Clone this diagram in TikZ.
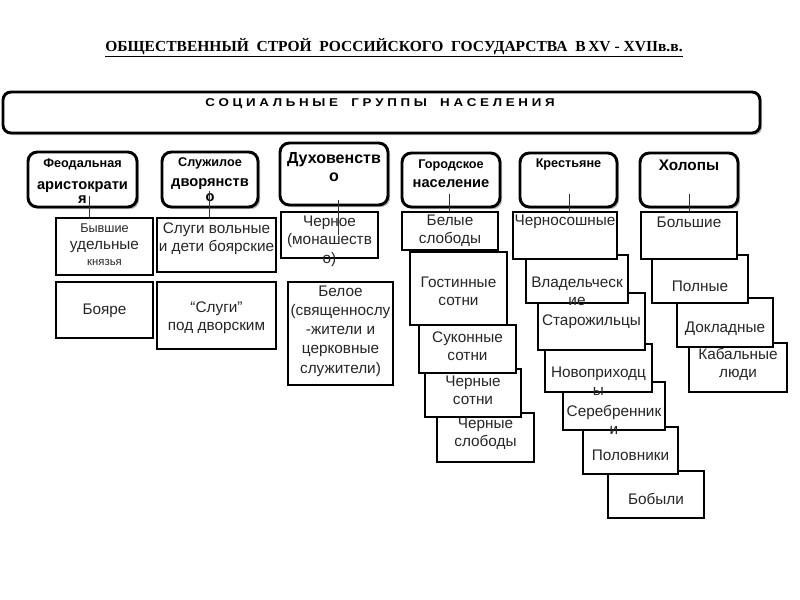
\documentclass[tikz,border=0pt]{standalone}
\usepackage{graphicx}
\usepackage{fontspec}
\setmainfont{Liberation Sans}
\newfontfamily\titlefont{Liberation Serif}
\usetikzlibrary{fit,shadows}

\tikzset{
  hdr/.style={draw, line width=2.2pt, rounded corners=7pt, fill=white, inner sep=0pt,
    drop shadow={shadow xshift=1.6pt, shadow yshift=-1.6pt, opacity=0.55}},
  sub/.style={draw, line width=1.3pt, fill=white, inner sep=0pt,
    drop shadow={shadow xshift=0.8pt, shadow yshift=-0.8pt, opacity=0.35}},
  htxt/.style={align=center, inner sep=0pt, font=\bfseries\fontsize{11}{10.5}\selectfont},
  stxt/.style={align=center, inner sep=0pt, text=black!85, font=\fontsize{11.5}{13.5}\selectfont},
  link/.style={line width=0.6pt, black!80},
}

\begin{document}
\begin{tikzpicture}[x=0.75pt,y=0.75pt,yscale=-1,xscale=1]
\useasboundingbox (0,0) rectangle (800,600);

% Text Node
\node (title) at (394,48) {\titlefont\bfseries\fontsize{11.5}{12}\selectfont\resizebox{433pt}{\height}{\underline{ОБЩЕСТВЕННЫЙ\ \ СТРОЙ\ \ РОССИЙСКОГО\ \ ГОСУДАРСТВА\ \ В\,XV - XVIIв.в.}}};

%Shape: Rounded Rect
\node[hdr, rounded corners=6pt, fit={(3,92) (760,133)}] (groups) {};
% Text Node
\node (groups-t) at (380,104) {\bfseries\fontsize{8.5}{10}\selectfont\resizebox{262pt}{\height}{С О Ц И А Л Ь Н Ы Е\quad Г Р У П П Ы\quad Н А С Е Л Е Н И Я}};

%Shape: Rounded Rect
\node[hdr, fit={(28,152) (137,207)}] (feod) {};
\node[hdr, fit={(162,152) (258,207)}] (dvor) {};
\node[hdr, fit={(280,143) (388,205)}] (dukh) {};
\node[hdr, fit={(402,153) (500,207)}] (gor) {};
\node[hdr, fit={(520,153) (617,207)}] (krest) {};
\node[hdr, fit={(640,153) (738,207)}] (kholop) {};

%Shape: Rectangle
\node[sub, fit={(56,282) (153,338)}] (boyare) {};
\node[sub, fit={(56,218) (153,275)}] (knyaz) {};
\node[sub, fit={(157,282) (276,349)}] (dvorsk) {};
\node[sub, fit={(157,218) (276,272)}] (slugi) {};
\node[sub, fit={(288,282) (393,385)}] (beloe) {};
\node[sub, fit={(281,212) (378,258)}] (chernoe) {};
%Shape: Rectangle
\node[sub, fit={(437,413) (534,462)}] (chsl) {};
\node[sub, fit={(425,369) (521,417)}] (chsot) {};
\node[sub, fit={(419,325) (516,373)}] (sukon) {};
\node[sub, fit={(410,252) (507,325)}] (gost) {};
\node[sub, fit={(402,212) (498,250)}] (belsl) {};
%Shape: Rectangle
\node[sub, fit={(608,471) (704,518)}] (bobyl) {};
\node[sub, fit={(583,427) (678,474)}] (polov) {};
\node[sub, fit={(563,382) (665,430)}] (sereb) {};
\node[sub, fit={(545,344) (652,392)}] (novo) {};
\node[sub, fit={(538,293) (645,350)}] (staro) {};
\node[sub, fit={(526,255) (628,303)}] (vlad) {};
\node[sub, fit={(513,212) (617,259)}] (chsosh) {};
%Shape: Rectangle
\node[sub, fit={(689,343) (787,392)}] (kabal) {};
\node[sub, fit={(677,298) (773,347)}] (dokl) {};
\node[sub, fit={(652,255) (748,303)}] (poln) {};
\node[sub, fit={(641,212) (737,259)}] (bolsh) {};

% Text Node
\node[htxt] (feod-t) at (82.5,181) {{\fontsize{9.5}{10}\selectfont Феодальная}\\[6pt]аристократи\\я};
\node[htxt, font=\bfseries\fontsize{11}{11.25}\selectfont] (dvor-t) at (210,180) {{\fontsize{9.5}{10}\selectfont Служилое}\\[3.75pt]дворянств\\о};
\node[htxt, font=\bfseries\fontsize{12}{13.5}\selectfont] (dukh-t) at (334,167) {Духовенств\\о};
\node[htxt, font=\bfseries\fontsize{11}{11}\selectfont] (gor-t) at (451,174) {{\fontsize{9.5}{10}\selectfont Городское}\\[3.25pt]население};
\node[htxt, font=\bfseries\fontsize{9.5}{11}\selectfont] (krest-t) at (568.5,164) {Крестьяне};
\node[htxt, font=\bfseries\fontsize{11.5}{12}\selectfont] (kholop-t) at (689,165) {Холопы};

% Text Node
\node[stxt, font=\fontsize{11.5}{12.5}\selectfont] (knyaz-t) at (104.5,245) {{\fontsize{9.5}{10}\selectfont Бывшие}\\удельные\\{\fontsize{8.5}{10}\selectfont князья}};
\node[stxt] (boyare-t) at (104.5,311) {Бояре};
\node[stxt] (slugi-t) at (216.5,239) {Слуги вольные\\и дети боярские};
\node[stxt] (dvorsk-t) at (216.5,318) {“Слуги”\\под дворским};
\node[stxt, font=\fontsize{11.5}{14}\selectfont] (chernoe-t) at (329.5,241) {Черное\\(монашеств\\о)};
\node[stxt, font=\fontsize{11.5}{14.4}\selectfont] (beloe-t) at (340.5,331) {Белое\\(священнослу\\-жители и\\церковные\\служители)};
% Text Node
\node[stxt] (belsl-t) at (450,231) {Белые\\слободы};
\node[stxt] (gost-t) at (458.5,291) {Гостинные\\сотни};
\node[stxt] (sukon-t) at (467.5,346) {Суконные\\сотни};
\node[stxt] (chsot-t) at (473,390) {Черные\\сотни};
\node[stxt] (chsl-t) at (485.5,434) {Черные\\слободы};
% Text Node
\node[stxt] (chsosh-t) at (565,222) {Черносошные};
\node[stxt] (vlad-t) at (577,291) {Владельческ\\ие};
\node[stxt] (staro-t) at (591.5,322) {Старожильцы};
\node[stxt] (novo-t) at (598.5,381) {Новоприходц\\ы};
\node[stxt] (sereb-t) at (614,420) {Серебренник\\и};
\node[stxt] (polov-t) at (630.5,455) {Половники};
\node[stxt] (bobyl-t) at (656,499) {Бобыли};
% Text Node
\node[stxt] (bolsh-t) at (689,222) {Большие};
\node[stxt] (poln-t) at (700,286) {Полные};
\node[stxt] (dokl-t) at (725,329) {Докладные};
\node[stxt] (kabal-t) at (738,364) {Кабальные\\люди};

%Straight Lines
\path (feod.south) ++(6.5,-12) coordinate (feod-c);
\draw[link] (feod-c) -- (feod-c |- knyaz.north);
\path (dvor.south) ++(-1,-17) coordinate (dvor-c);
\draw[link] (dvor-c) -- (dvor-c |- slugi.north);
\path (dukh.south) ++(4,-6) coordinate (dukh-c);
\draw[link] (dukh-c) -- (dukh-c |- chernoe.center);
\path (gor.south) ++(-2,-14) coordinate (gor-c);
\draw[link] (gor-c) -- (gor-c |- belsl.north);
\path (krest.south) ++(0.5,-14) coordinate (krest-c);
\draw[link] (krest-c) -- (krest-c |- chsosh.north);
\path (kholop.south) ++(0,-14) coordinate (kholop-c);
\draw[link] (kholop-c) -- (kholop-c |- bolsh.north);

\end{tikzpicture}
\end{document}
